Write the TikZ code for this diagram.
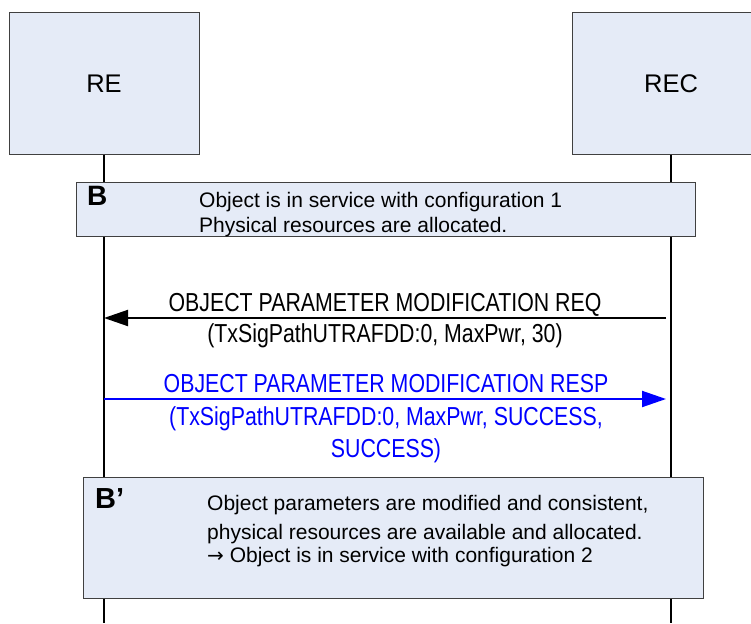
\documentclass[tikz,border=0pt]{standalone}
\usepackage{fontspec}
\setmainfont{Liberation Sans}
\newfontfamily\msgfont[FakeStretch=0.82]{Liberation Sans}
\newfontfamily\arrowfont{DejaVu Sans}
\usetikzlibrary{positioning,arrows.meta}
\definecolor{boxfill}{RGB}{229,235,247}
\definecolor{boxline}{RGB}{64,64,64}

\begin{document}
\begin{tikzpicture}[x=1pt, y=-1pt,
    entity/.style={draw=boxline, line width=1pt, fill=boxfill, minimum width=190pt, minimum height=141pt, inner sep=0pt, font=\fontsize{25.5}{30}\selectfont},
    statebox/.style={draw=boxline, line width=1pt, fill=boxfill, inner sep=0pt},
    lifeline/.style={line width=2pt, black},
    statetag/.style={anchor=base west, inner sep=0pt, font=\fontsize{28}{32}\selectfont\bfseries},
    statetxt/.style={anchor=base west, inner sep=0pt, font=\fontsize{21}{25}\selectfont},
    msgtxt/.style={anchor=base, inner sep=0pt, font=\fontsize{26}{31}\msgfont},
    msgline/.style={line width=2pt, -{Triangle[length=24pt, width=16pt]}}
]
    \useasboundingbox (0,0) rectangle (751,623);

    % --- Entities (RE left, REC right, cut by the page edge) ---
    \node[entity] (re) at (104,83.5) {RE};
    \node[entity, minimum width=198pt] (rec) at (671,83.5) {REC};

    % --- Lifelines ---
    \coordinate (reEnd) at (104,623);
    \coordinate (recEnd) at (671,623);
    \draw[lifeline] (re.south) -- (reEnd);
    \draw[lifeline] (rec.south) -- (recEnd);

    % --- State B ---
    \node[statebox, minimum width=619pt, minimum height=54pt] (stateB) at (385.5,209) {};
    \node[statetag] (tagB) at (87,205) {B};
    \node[statetxt] (txtBa) at (199,207) {Object is in service with configuration 1};
    \node[statetxt] (txtBb) at (199,232) {Physical resources are allocated.};

    % --- Request (REC -> RE) ---
    \coordinate (reqFrom) at (666,318);
    \coordinate (reqTo) at (104,318);
    \draw[msgline] (reqFrom) -- (reqTo);
    \node[msgtxt] (reqA) at (385,311) {OBJECT PARAMETER MODIFICATION REQ};
    \node[msgtxt] (reqB) at (385,342) {(TxSigPathUTRAFDD:0, MaxPwr, 30)};

    % --- Response (RE -> REC) ---
    \coordinate (respFrom) at (104,399);
    \coordinate (respTo) at (666,399);
    \draw[msgline, blue] (respFrom) -- (respTo);
    \node[msgtxt, blue] (respA) at (386,392) {OBJECT PARAMETER MODIFICATION RESP};
    \node[msgtxt, blue] (respB) at (386,425) {(TxSigPathUTRAFDD:0, MaxPwr, SUCCESS,};
    \node[msgtxt, blue] (respC) at (386,457) {SUCCESS)};

    % --- State B' ---
    \node[statebox, minimum width=620pt, minimum height=121pt] (stateBp) at (393,537.5) {};
    \node[statetag, font=\fontsize{29}{33}\selectfont\bfseries] (tagBp) at (95,508) {B’};
    \node[statetxt] (txtBpa) at (207,510) {Object parameters are modified and consistent,};
    \node[statetxt] (txtBpb) at (207,539) {physical resources are available and allocated.};
    \node[statetxt] (txtBpc) at (207,562) {{\arrowfont\fontsize{20}{24}\selectfont →} Object is in service with configuration 2};

\end{tikzpicture}
\end{document}
